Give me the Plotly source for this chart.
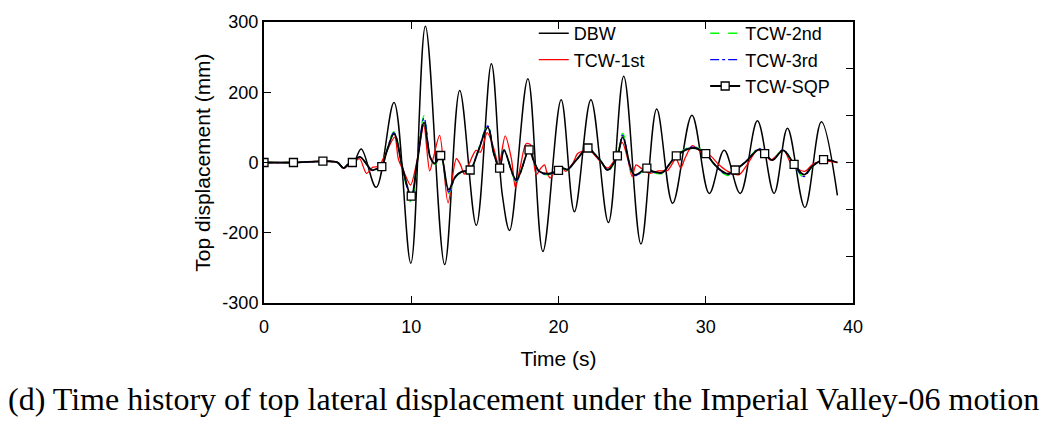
import plotly.graph_objects as go

# ---------------- data ----------------
t_dbw = [0, 2, 3.5, 4.5, 5.0, 5.4, 5.8, 6.0, 6.6, 7.62, 8.83, 9.97, 10.96, 12.27,
         13.29, 14.42, 15.44, 16.18, 16.68, 17.92, 18.94, 20.18, 21.08, 22.2, 23.39,
         24.43, 25.6, 26.67, 27.75, 29.06, 30.24, 31.25, 32.34, 33.51, 34.64, 35.55,
         36.73, 37.85, 38.94]
v_dbw = [0, 0, 2, 3, 0, -12, -4, -8, 29, -53, 128, -215, 291, -218,
         154, -134, 211, -68, -145, 179, -190, 134, -105, 134, -128,
         184, -174, 114, -87, 101, -66, 26, -66, 89, -66, 73,
         -96, 87, -70]

t_tcw = [0, 2, 3.5, 4, 4.6, 5.0, 5.4, 5.7, 6, 6.5, 7.0, 7.3, 7.6, 8, 8.3, 8.83, 9.4,
         10, 10.4, 10.87, 11.3, 11.6, 12, 12.54, 13.0, 13.4, 14, 14.5, 15.2, 15.6,
         16, 16.3, 17.13, 18, 18.3, 18.7, 19.3, 20, 20.3, 20.6, 21.2, 22, 22.4, 22.9,
         23.34, 24, 24.36, 25.15, 26, 26.4, 27.07, 27.5, 28, 29.1, 30, 30.46, 31.0,
         31.5, 32, 32.7, 33.63, 34, 34.53, 35.25, 36, 36.68, 37.2, 38, 38.94]
v_sqp = [0, 0, 2, 3, 2, 0, -12, -4, 0, 12, -5, -16, -14, -9, 20, 61, -10,
         -72, 0, 85, 10, -2, 15, -58, -30, -20, -16, 20, 75, 20,
         -12, 26, -37, 27, 5, -19, -24, -17, -12, -15, 5, 31, 20, 2,
         -16, 14, 54, -26, -12, -19, -21, -5, 14, 31, 19, 1, -16,
         -24, -16, 1, 28, 19, 5, 26, -4, -26, -9, 6, 0]
v_2nd = [0, 0, 2, 3, 2, 0, -13, -4, 0, 13, -5, -17, -15, -9, 22, 66, -12,
         -86, 0, 100, 12, -4, 15, -66, -32, -21, -17, 22, 80, 20,
         -14, 28, -40, 29, 5, -21, -26, -18, -13, -16, 5, 33, 21, 2,
         -18, 15, 62, -30, -13, -21, -23, -5, 15, 34, 20, 1, -18,
         -28, -17, 1, 31, 20, 5, 28, -5, -32, -10, 6, 0]
v_3rd = [0, 0, 2, 3, 2, 0, -12, -4, 0, 12, -5, -17, -15, -9, 21, 64, -11,
         -80, 0, 95, 11, -3, 15, -63, -31, -20, -16, 21, 78, 20,
         -13, 27, -39, 28, 5, -20, -25, -17, -12, -15, 5, 32, 20, 2,
         -17, 14, 58, -28, -12, -20, -22, -5, 14, 33, 19, 1, -17,
         -26, -16, 1, 30, 19, 5, 27, -5, -30, -9, 6, 0]

t_1st = [0, 2, 4, 5.0, 5.4, 5.8, 6.2, 6.5, 6.96, 7.4, 7.8, 8.2, 8.88, 9.12, 9.5, 9.95,
         10.4, 10.85, 11.25, 11.5, 11.93, 12.5, 13.06, 13.35, 13.6, 13.9, 14.4, 14.7,
         15.16, 15.55, 15.95, 16.38, 16.8, 17.08, 17.4, 17.8, 18.1, 18.49, 18.8, 19.05,
         19.2, 19.44, 19.73, 20.18, 20.5, 21.0, 21.3, 21.88, 22.2, 22.67, 23.34, 23.8,
         24.32, 24.7, 25.0, 25.27, 25.6, 26.17, 26.8, 27.4, 27.98, 28.3, 28.6, 29.1,
         29.7, 30.3, 30.9, 31.5, 32.27, 32.8, 33.5, 34.0, 34.4, 35.3, 35.8, 36.7,
         37.3, 37.9, 38.94]
v_1st = [0, 0, 3, 0, -12, -3, 3, 8, -23, -10, -8, 15, 54, 8, -20, -48,
         5, 80, -18, 10, 58, -86, 8, -5, -25, -5, 26, 22,
         64, 36, -5, 57, 8, -54, -10, 40, 38, -26, -12, -5,
         -20, -33, -20, -9, -19, 0, 19, 26, 24, 8, -12, 5,
         43, 8, -30, -5, -12, -23, -18, -17, 8, -12, 10, 36,
         22, 15, -5, -19, -26, -5, 26, 20, 5, 26, -3, -19,
         -3, 3, 0]

sqp_marker_times = [0, 2, 4, 6, 8, 10, 12, 14, 16, 18, 20, 22, 24, 26, 28, 30,
                    32, 34, 36, 38]

x_tick_vals = [0, 10, 20, 30, 40]
y_tick_vals = [-300, -150, 0, 150, 300]
y_tick_text = ["-300", "-200", "0", "200", "300"]
y_right_ticks = [-300, -200, -100, 0, 100, 200, 300]

# ---------------- figure ----------------
FONT = "Liberation Sans, Arial, sans-serif"
fig = go.Figure()

fig.add_trace(go.Scatter(x=t_dbw, y=v_dbw, mode="lines", name="DBW",
                         line=dict(color="black", width=1.5, shape="spline", smoothing=1),
                         legend="legend"))
fig.add_trace(go.Scatter(x=t_1st, y=v_1st, mode="lines", name="TCW-1st",
                         line=dict(color="#ff0000", width=1.3, shape="spline", smoothing=0.8),
                         legend="legend"))
fig.add_trace(go.Scatter(x=t_tcw, y=v_2nd, mode="lines", name="TCW-2nd",
                         line=dict(color="#00ff00", width=1.4, dash="dash", shape="spline", smoothing=1),
                         legend="legend2"))
fig.add_trace(go.Scatter(x=t_tcw, y=v_3rd, mode="lines", name="TCW-3rd",
                         line=dict(color="#0000ff", width=1.3, dash="dashdot", shape="spline", smoothing=1),
                         legend="legend2"))
fig.add_trace(go.Scatter(x=t_tcw, y=v_sqp, mode="lines", name="TCW-SQP",
                         line=dict(color="black", width=1.8, shape="spline", smoothing=1),
                         showlegend=False, legendgroup="sqp"))
mk_x = [t for t in t_tcw if t in sqp_marker_times]
mk_y = [v for t, v in zip(t_tcw, v_sqp) if t in sqp_marker_times]
fig.add_trace(go.Scatter(x=mk_x, y=mk_y, mode="markers", name="TCW-SQP",
                         marker=dict(symbol="square", size=8, color="white",
                                     line=dict(color="black", width=1.3)),
                         legendgroup="sqp", legend="legend2", showlegend=False))
# legend proxy for SQP (line + marker)
fig.add_trace(go.Scatter(x=[None], y=[None], mode="lines+markers", name="TCW-SQP",
                         line=dict(color="black", width=1.8),
                         marker=dict(symbol="square", size=8, color="white",
                                     line=dict(color="black", width=1.3)),
                         legend="legend2"))
# invisible trace to activate right axis
fig.add_trace(go.Scatter(x=[None], y=[None], yaxis="y2", showlegend=False))

TITLE_FONT = dict(family=FONT, size=21, color="black")

fig.update_layout(
    width=1046, height=426,
    margin=dict(l=264, r=193, t=16, b=123),
    paper_bgcolor="white", plot_bgcolor="white",
    font=dict(family=FONT, size=18, color="black"),
    xaxis=dict(range=[0, 40], tickvals=x_tick_vals, ticks="inside", ticklen=7,
               tickwidth=1, tickcolor="black", showline=True, linewidth=2,
               linecolor="black", mirror="ticks", showgrid=False, zeroline=False,
               ticklabelstandoff=6,
               title=dict(text="Time (s)", standoff=16, font=TITLE_FONT),
               tickfont=dict(family=FONT, size=18)),
    yaxis=dict(range=[-300, 300], tickvals=y_tick_vals, ticktext=y_tick_text,
               ticks="inside", ticklen=7, tickwidth=1, tickcolor="black",
               showline=True, linewidth=2, linecolor="black", showgrid=False,
               zeroline=False,
               title=dict(text="Top displacement (mm)", standoff=6, font=TITLE_FONT),
               tickfont=dict(family=FONT, size=18)),
    yaxis2=dict(range=[-300, 300], tickvals=y_right_ticks, overlaying="y",
                side="right", ticks="inside", ticklen=7, tickwidth=1,
                tickcolor="black", showline=True, linewidth=2, linecolor="black",
                showticklabels=False, showgrid=False, zeroline=False),
    legend=dict(x=0.458, y=1.025, xanchor="left", yanchor="top",
                bgcolor="rgba(0,0,0,0)", font=dict(family=FONT, size=18),
                tracegroupgap=0, itemwidth=30),
    legend2=dict(x=0.749, y=1.025, xanchor="left", yanchor="top",
                 bgcolor="rgba(0,0,0,0)", font=dict(family=FONT, size=18),
                 tracegroupgap=0, itemwidth=30),
    annotations=[dict(text="(d) Time history of top lateral displacement under the Imperial Valley-06 motion",
                      xref="paper", yref="paper", x=0.5, y=-0.34, xanchor="center",
                      yanchor="middle", showarrow=False,
                      font=dict(family="Liberation Serif, Times New Roman, serif", size=32))],
)
# keep the caption centered on the page rather than the plot area
fig.layout.annotations[0].update(x=(523 - 264) / (853 - 264))

fig.write_html("out.html")
